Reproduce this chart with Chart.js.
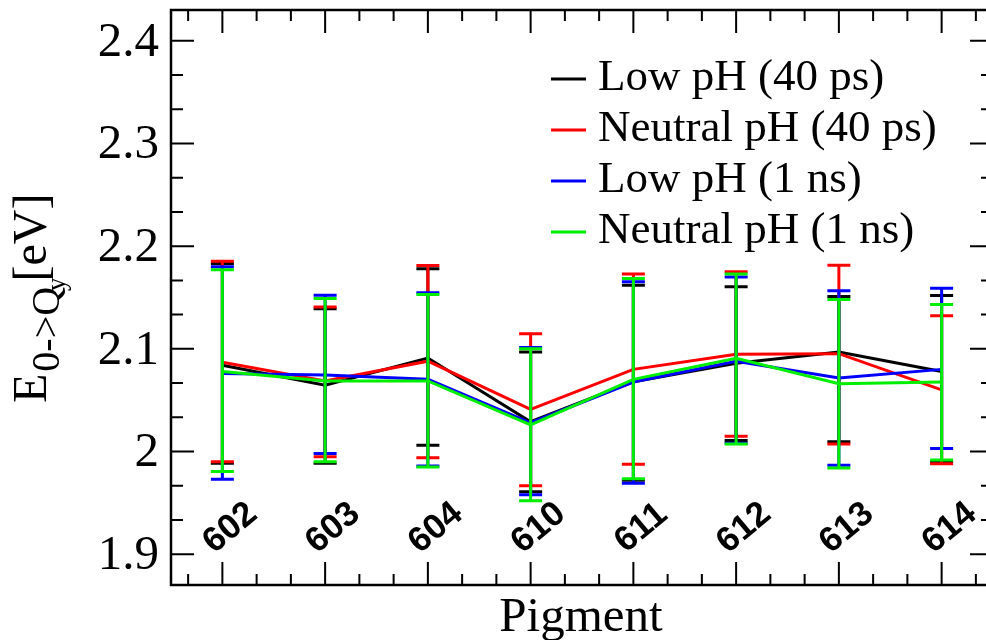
<!DOCTYPE html>
<html>
<head>
<meta charset="utf-8">
<script src="https://cdn.jsdelivr.net/npm/chart.js@4.4.1/dist/chart.umd.min.js"></script>
<style>
  html, body { margin: 0; padding: 0; background: #fff; overflow: hidden; }
  .chart-box { position: relative; width: 1000px; height: 640px; }
  .warm { position: absolute; left: -2000px; font-family: "Liberation Serif"; }
</style>
</head>
<body>
<div class="warm">Pigment <b style="font-family: 'Liberation Sans'">602</b></div>
<div class="chart-box"><canvas id="pigment-chart"></canvas></div>
<script>

// data =================================================

const pigments = ['602', '603', '604', '610', '611', '612', '613', '614'];
const yTickValues = [1.9, 2.0, 2.1, 2.2, 2.3, 2.4];
const yTickLabels = ['1.9', '2', '2.1', '2.2', '2.3', '2.4'];

const seriesNames = ['Low pH (40 ps)', 'Neutral pH (40 ps)', 'Low pH (1 ns)', 'Neutral pH (1 ns)'];
const seriesColors = ['#000000', '#ff0000', '#0000ff', '#00ee00'];

const lowPh40 = [2.084, 2.0645, 2.091, 2.029, 2.068, 2.086, 2.097, 2.078];
const lowPh40Hi = [2.183, 2.139, 2.178, 2.097, 2.162, 2.1605, 2.151, 2.152];
const lowPh40Lo = [1.9886, 1.9886, 2.006, 1.9607, 1.972, 2.0107, 2.0094, 1.990];

const neutralPh40 = [2.087, 2.0687, 2.088, 2.041, 2.080, 2.0947, 2.0953, 2.060];
const neutralPh40Hi = [2.1854, 2.1407, 2.1812, 2.1148, 2.173, 2.175, 2.1815, 2.1323];
const neutralPh40Lo = [1.990, 1.9948, 1.994, 1.9666, 1.9876, 2.0149, 2.0074, 1.988];

const lowPh1 = [2.076, 2.0745, 2.0703, 2.028, 2.0677, 2.088, 2.0716, 2.080];
const lowPh1Hi = [2.180, 2.1523, 2.1547, 2.1012, 2.1654, 2.170, 2.1566, 2.1589];
const lowPh1Lo = [1.973, 1.998, 1.986, 1.9578, 1.969, 2.008, 1.9867, 2.0029];

const neutralPh1 = [2.078, 2.0687, 2.0687, 2.026, 2.0703, 2.0908, 2.066, 2.0677];
const neutralPh1Hi = [2.177, 2.149, 2.153, 2.100, 2.1686, 2.173, 2.148, 2.1433];
const neutralPh1Lo = [1.9805, 1.990, 1.985, 1.952, 1.9735, 2.0074, 1.984, 1.9918];

const means = [lowPh40, neutralPh40, lowPh1, neutralPh1];
const highs = [lowPh40Hi, neutralPh40Hi, lowPh1Hi, neutralPh1Hi];
const lows = [lowPh40Lo, neutralPh40Lo, lowPh1Lo, neutralPh1Lo];

const serif = '"Liberation Serif", "DejaVu Serif", "Noto Serif", serif';


// error bars =================================================

const errorBars = {
  id: 'errorBars',
  afterDatasetDraw(chart, args) {
    const i = args.index;
    const ctx = chart.ctx;
    const x = chart.scales.x;
    const y = chart.scales.y;
    ctx.save();
    ctx.strokeStyle = seriesColors[i];
    ctx.lineWidth = 3;
    ctx.lineCap = 'butt';
    pigments.forEach((p, k) => {
      const px = x.getPixelForValue(k);
      const top = y.getPixelForValue(highs[i][k]);
      const bot = y.getPixelForValue(lows[i][k]);
      ctx.beginPath();
      ctx.moveTo(px, top);
      ctx.lineTo(px, bot);
      ctx.moveTo(px - 11.5, top);
      ctx.lineTo(px + 11.5, top);
      ctx.moveTo(px - 11.5, bot);
      ctx.lineTo(px + 11.5, bot);
      ctx.stroke();
    });
    ctx.restore();
  }
};


// frame, ticks, labels, legend =================================================

const frame = {
  id: 'frame',
  afterDraw(chart) {
    const ctx = chart.ctx;
    const x = chart.scales.x;
    const y = chart.scales.y;
    const a = chart.chartArea;
    ctx.save();

    // box
    ctx.strokeStyle = '#000';
    ctx.lineWidth = 2.5;
    ctx.strokeRect(a.left, a.top, a.right - a.left, a.bottom - a.top);

    // x ticks (bottom + top), minor every 1/3
    ctx.lineWidth = 2;
    for (let v = Math.ceil(x.min * 3) / 3; v <= x.max + 1e-9; v += 1 / 3) {
      const major = Math.abs(v - Math.round(v)) < 1e-6;
      const len = major ? 23 : 11;
      const px = x.getPixelForValue(v);
      ctx.beginPath();
      ctx.moveTo(px, a.bottom);
      ctx.lineTo(px, a.bottom - len);
      ctx.moveTo(px, a.top);
      ctx.lineTo(px, a.top + len);
      ctx.stroke();
    }

    // y ticks (left + right), minor every 0.1/3
    for (let n = Math.ceil(y.min * 30 - 1e-6); n / 30 <= y.max + 1e-9; n++) {
      const major = n % 3 === 0;
      const len = major ? 23 : 12;
      const py = y.getPixelForValue(n / 30);
      ctx.beginPath();
      ctx.moveTo(a.left, py);
      ctx.lineTo(a.left + len, py);
      ctx.moveTo(a.right, py);
      ctx.lineTo(a.right - len, py);
      ctx.stroke();
    }

    // y tick labels
    ctx.fillStyle = '#000';
    ctx.font = '49px ' + serif;
    ctx.textAlign = 'right';
    ctx.textBaseline = 'middle';
    yTickValues.forEach((v, k) => {
      ctx.fillText(yTickLabels[k], a.left - 12, y.getPixelForValue(v) + 2);
    });

    // category labels, rotated, inside the box
    ctx.font = 'bold 35px "Liberation Sans", Arial, sans-serif';
    ctx.textAlign = 'center';
    ctx.textBaseline = 'middle';
    pigments.forEach((p, k) => {
      ctx.save();
      ctx.translate(x.getPixelForValue(k) + 8, a.bottom - 57);
      ctx.rotate(-40 * Math.PI / 180);
      ctx.fillText(p, 0, 0);
      ctx.restore();
    });

    // x title
    ctx.font = '49px ' + serif;
    ctx.textBaseline = 'alphabetic';
    ctx.fillText('Pigment', 581, 631);

    // y title: E_{0->Q_y} [eV]
    ctx.save();
    ctx.translate(46, 403);
    ctx.rotate(-Math.PI / 2);
    ctx.textAlign = 'left';
    let cx = 0;
    ctx.font = '48px ' + serif;
    ctx.fillText('E', cx, 0);
    cx += ctx.measureText('E').width + 2;
    ctx.font = '40px ' + serif;
    ctx.fillText('0->Q', cx, 13);
    cx += ctx.measureText('0->Q').width - 4;
    ctx.font = '27px ' + serif;
    ctx.fillText('y', cx, 19);
    cx += ctx.measureText('y').width - 4;
    ctx.font = '48px ' + serif;
    ctx.fillText('[eV]', cx, 0);
    ctx.restore();

    // legend
    ctx.font = '45px ' + serif;
    ctx.textAlign = 'left';
    ctx.lineWidth = 3;
    seriesNames.forEach((name, k) => {
      const ly = 79 + k * 51;
      ctx.strokeStyle = seriesColors[k];
      ctx.beginPath();
      ctx.moveTo(551, ly);
      ctx.lineTo(586, ly);
      ctx.stroke();
      ctx.fillStyle = '#000';
      ctx.fillText(name, 598, ly + 11);
    });

    ctx.restore();
  }
};


// chart =================================================

const pigmentChart = new Chart(document.getElementById('pigment-chart'), {
  type: 'line',
  data: {
    datasets: seriesNames.map((name, i) => ({
      label: name,
      data: means[i].map((v, k) => ({ x: k, y: v })),
      borderColor: seriesColors[i],
      borderWidth: 3,
      pointRadius: 0,
      tension: 0,
      fill: false,
      order: 4 - i
    }))
  },
  options: {
    responsive: true,
    maintainAspectRatio: false,
    animation: false,
    layout: {
      padding: { left: 171, right: 7, top: 10, bottom: 55 }
    },
    plugins: {
      legend: { display: false },
      tooltip: { enabled: false }
    },
    scales: {
      x: { type: 'linear', min: -0.5, max: 7.5, display: false },
      y: { type: 'linear', min: 1.87, max: 2.43, display: false }
    }
  },
  plugins: [errorBars, frame]
});

</script>
</body>
</html>
